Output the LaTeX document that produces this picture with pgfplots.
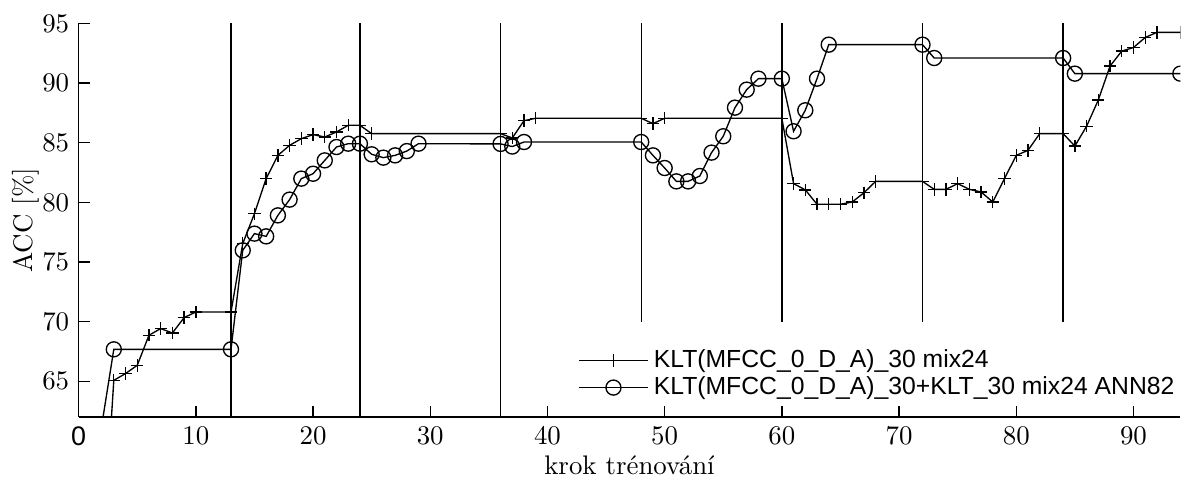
\documentclass[border=0pt]{standalone}
\usepackage{pgfplots}
\pgfplotsset{compat=1.18}
\usepackage{fontspec}
\newfontfamily\legfont{Liberation Sans}
\begin{document}
\begin{tikzpicture}
\begin{axis}[
  scale only axis,
  width=410pt, height=146.5pt,
  xmin=0, xmax=94, ymin=62, ymax=95,
  axis lines=left,
  axis line style={-, line width=0.5pt},
  tick align=inside,
  major tick length=4.2pt,
  tick style={line width=0.5pt, black},
  xtick={0,10,20,30,40,50,60,70,80,90},
  xticklabels={{\legfont 0},10,20,30,40,50,60,70,80,90},
  ytick={65,70,75,80,85,90,95},
  yticklabel style={inner ysep=5.5pt},
  xlabel={krok trénování},
  ylabel={ACC [\%]},
  xlabel style={inner ysep=2pt, yshift=1.6pt},
  ylabel style={inner ysep=4.5pt, yshift=-6.8pt},
  clip marker paths=true,
  legend cell align=left,
  legend style={at={(1,0)}, anchor=south east, inner xsep=0pt, yshift=2.7pt, draw=none, fill=none, font=\legfont\fontsize{9.2}{11}\selectfont, row sep=-2.1pt},
  legend image code/.code={%
    \draw[#1, mark=none] (0cm,0cm) -- (0.9cm,0cm);
    \draw[#1, mark repeat=2, mark phase=2] plot coordinates {(0cm,0cm) (0.45cm,0cm) (0.9cm,0cm)};},
]
\addplot[black, line width=0.5pt, mark=+, mark size=2.3pt, mark options={solid, line width=0.5pt}] coordinates {
(2,49.6) (3,65.08) (4,65.65) (5,66.34) (6,68.86) (7,69.42) (8,69.05) (9,70.34) (10,70.81) (13,70.81)
(14,76.54) (15,79.05) (16,81.99) (17,83.94) (18,84.78) (19,85.34) (20,85.68) (21,85.48) (22,85.9) (23,86.46) (24,86.46)
(25,85.76) (36,85.76) (37,85.4) (38,86.85) (39,87.05) (48,87.05) (49,86.6) (50,87.05) (60,87.05)
(61,81.57) (62,81.05) (63,79.84) (64,79.84) (65,79.84) (66,80.03) (67,80.8) (68,81.76) (72,81.76)
(73,81.09) (74,81.09) (75,81.57) (76,81.09) (77,80.87) (78,80.03) (79,82.0) (80,83.94) (81,84.36) (82,85.76) (84,85.76)
(85,84.72) (86,86.38) (87,88.58) (88,91.42) (89,92.68) (90,92.98) (91,93.82) (92,94.25) (94,94.25)
};
\addlegendentry{KLT(MFCC\_0\_D\_A)\_30 mix24}
\addplot[black, line width=0.5pt, mark=o, mark size=2.8pt, mark options={solid, line width=0.5pt}] coordinates {
(1,55.3) (3,67.68) (13,67.68) (14,75.98) (15,77.38) (16,77.15) (17,78.91) (18,80.23) (19,81.99) (20,82.4)
(21,83.52) (22,84.64) (23,84.92) (24,84.92) (25,84.03) (26,83.75) (27,83.94) (28,84.3) (29,84.92) (36,84.9)
(37,84.68) (38,85.06) (48,85.06) (49,83.94) (50,82.88) (51,81.76) (52,81.76) (53,82.21) (54,84.17) (55,85.54)
(56,87.94) (57,89.45) (58,90.37) (60,90.37) (61,85.96) (62,87.72) (63,90.37) (64,93.22) (72,93.22) (73,92.1)
(84,92.1) (85,90.79) (94,90.79)
};
\addlegendentry{KLT(MFCC\_0\_D\_A)\_30+KLT\_30 mix24 ANN82}
\addplot[black, line width=0.5pt, forget plot] coordinates {(13,62) (13,95)};
\addplot[black, line width=0.5pt, forget plot] coordinates {(24,62) (24,95)};
\addplot[black, line width=0.5pt, forget plot] coordinates {(36,62) (36,95)};
\addplot[black, line width=0.5pt, forget plot] coordinates {(48,70) (48,95)};
\addplot[black, line width=0.5pt, forget plot] coordinates {(60,70) (60,95)};
\addplot[black, line width=0.5pt, forget plot] coordinates {(72,70) (72,95)};
\addplot[black, line width=0.5pt, forget plot] coordinates {(84,70) (84,95)};
\end{axis}
\end{tikzpicture}
\end{document}
